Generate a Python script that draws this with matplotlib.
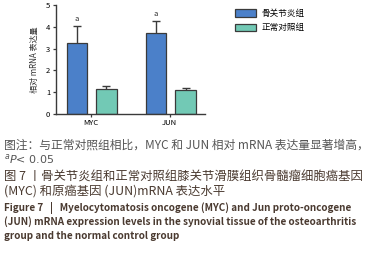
import matplotlib.pyplot as plt
import numpy as np

plt.rcParams['font.family'] = ['Noto Sans CJK SC', 'DejaVu Sans']

genes = ['MYC', 'JUN']
oa_mean = [3.25, 3.70]
oa_err = [0.78, 0.55]
ctrl_mean = [1.16, 1.10]
ctrl_err = [0.13, 0.09]
sig = ['a', 'a']
legend_labels = ['骨关节炎组', '正常对照组']

blue = '#4b80c9'
green = '#72c9b5'
edge = '#3a3a3a'

fig = plt.figure(figsize=(3.75, 2.56), dpi=100)
ax = fig.add_axes([0.149, 0.555, 0.398, 0.425])

x = np.arange(len(genes))
w = 0.26
ekw = dict(fmt='none', ecolor=edge, elinewidth=1.0, capsize=3, capthick=1.0, zorder=1)
# 误差棒放在柱子后面，只露出上半部分
ax.errorbar(x - 0.175, oa_mean, yerr=oa_err, **ekw)
ax.errorbar(x + 0.2, ctrl_mean, yerr=ctrl_err, **ekw)
b1 = ax.bar(x - 0.175, oa_mean, w, color=blue, edgecolor=edge, linewidth=0.9,
            label=legend_labels[0], zorder=2)
b2 = ax.bar(x + 0.2, ctrl_mean, w, color=green, edgecolor=edge, linewidth=0.9,
            label=legend_labels[1], zorder=2)
for i, s in enumerate(sig):
    ax.text(x[i] - 0.175, oa_mean[i] + oa_err[i] + 0.15, s, ha='center', va='bottom',
            fontsize=5.5, color='#333333')

ax.set_xlim(-0.44, 1.447)
ax.set_ylim(0, 5)
ax.set_yticks(range(6))
ax.set_xticks(x)
ax.set_xticklabels(genes)
ax.tick_params(axis='both', labelsize=5.5, length=2.5, width=0.9, color=edge, pad=1.5)
ax.spines['top'].set_visible(False)
ax.spines['right'].set_visible(False)
for sp in ['left', 'bottom']:
    ax.spines[sp].set_linewidth(1.0)
    ax.spines[sp].set_color(edge)
ax.set_ylabel('相对 mRNA 表达量', fontsize=5.8, labelpad=5, color='#333333')

fig.legend(handles=[b1, b2], labels=legend_labels, loc='upper left',
           bbox_to_anchor=(0.605, 0.995), frameon=False, fontsize=6.2,
           handlelength=2.5, handleheight=0.9, labelspacing=0.6, handletextpad=0.6)

cap_gray = '#555555'
cap_dark = '#4a3a30'
fig.text(0.01, 1 - 145/256, '图注：与正常对照组相比，MYC 和 JUN 相对 mRNA 表达量显著增高，',
         fontsize=8.5, color=cap_gray, va='center')
fig.text(0.01, 1 - 159/256, '$^{a}$$\\it{P}$< 0.05', fontsize=8, color=cap_gray, va='center',
         family='DejaVu Sans')
fig.text(0.01, 1 - 177/256, '图 7 丨骨关节炎组和正常对照组膝关节滑膜组织骨髓瘤细胞癌基因',
         fontsize=8.9, color=cap_dark, va='center', fontweight='medium')
fig.text(0.01, 1 - 191/256, '(MYC) 和原癌基因 (JUN)mRNA 表达水平',
         fontsize=8.9, color=cap_dark, va='center')
fig.text(0.01, 1 - 208/256, 'Figure 7   |   Myelocytomatosis oncogene (MYC) and Jun proto-oncogene',
         fontsize=7.15, color=cap_dark, va='center', fontweight='bold')
fig.text(0.01, 1 - 222/256, '(JUN) mRNA expression levels in the synovial tissue of the osteoarthritis',
         fontsize=7.15, color=cap_dark, va='center', fontweight='bold')
fig.text(0.01, 1 - 236/256, 'group and the normal control group',
         fontsize=7.15, color=cap_dark, va='center', fontweight='bold')

fig.savefig('out.png', dpi=100)
